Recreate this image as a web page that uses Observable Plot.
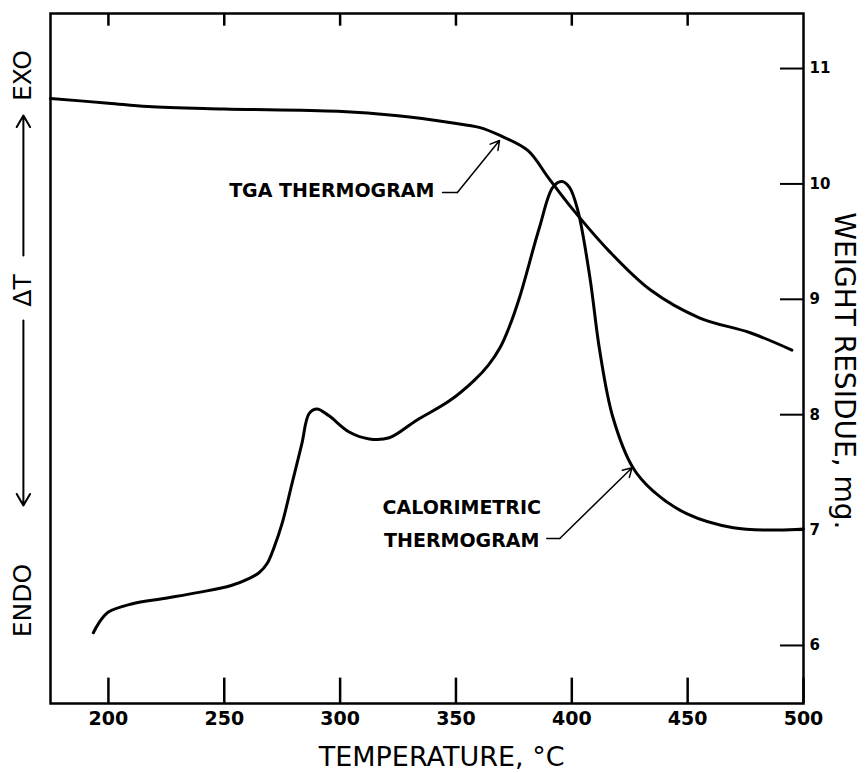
<!DOCTYPE html>
<html><head><meta charset="utf-8">
<script src="https://cdn.jsdelivr.net/npm/d3@7"></script>
<script src="https://cdn.jsdelivr.net/npm/@observablehq/plot@0.6"></script>
<style>body{margin:0;background:#fff}</style>
</head><body><div id="chart"></div>
<script>
// TGA thermogram: temperature (°C) vs weight residue (mg)
const tgaTemp   = [175, 200, 217, 250, 299, 325, 348, 360, 369, 381, 390, 400, 416, 434, 455, 477, 495];
const tgaWeight = [10.74, 10.70, 10.67, 10.65, 10.63, 10.59, 10.53, 10.49, 10.42, 10.29, 10.05, 9.79, 9.42, 9.08, 8.84, 8.71, 8.56];
// Calorimetric thermogram (ΔT, drawn against the same vertical scale)
const calTemp  = [193.5, 195.7, 200, 210, 224.7, 239, 253, 260.6, 265, 268.5, 271.5, 275, 279.2, 283.5, 286.6, 290, 295.2, 303.9, 312.6, 321.2, 332.9, 347.2, 358, 364, 369, 373, 377.5, 386, 391.8, 395.7, 399, 402.6, 407.8, 412, 417.7, 426.4, 435, 449.8, 469.7, 488.7, 500];
const calDelta = [6.11, 6.19, 6.29, 6.36, 6.41, 6.46, 6.52, 6.58, 6.63, 6.71, 6.85, 7.06, 7.40, 7.75, 8.01, 8.05, 7.99, 7.85, 7.79, 7.80, 7.95, 8.12, 8.30, 8.43, 8.58, 8.76, 9.02, 9.62, 9.97, 10.02, 9.97, 9.77, 9.19, 8.56, 7.98, 7.54, 7.34, 7.14, 7.02, 7.00, 7.01];
const xTicks = [200, 250, 300, 350, 400, 450, 500];
const xTopTicks = [200, 250, 300, 350, 400, 450];
const yTicks = [6, 7, 8, 9, 10, 11];
const xLabel = "TEMPERATURE, °C";
const yRightLabel = "WEIGHT RESIDUE, mg.";
const tgaLabel = "TGA THERMOGRAM";
const calLabel1 = "CALORIMETRIC";
const calLabel2 = "THERMOGRAM";

const tga = tgaTemp.map((t, i) => ({t, v: tgaWeight[i]}));
const cal = calTemp.map((t, i) => ({t, v: calDelta[i]}));

const xDom = [175, 500], yDom = [5.497, 11.477];
const bottomTicks = xTicks.map(t => ({t, lo: yDom[0], hi: yDom[0] + 0.22}));
const topTicks = xTopTicks.map(t => ({t, lo: yDom[1] - 0.11, hi: yDom[1]}));
const sans = "'DejaVu Sans', sans-serif";

const chart = Plot.plot({
  width: 865, height: 773,
  marginLeft: 50, marginRight: 62, marginTop: 13, marginBottom: 70,
  x: {domain: xDom},
  y: {domain: yDom},
  style: {fontFamily: sans, color: "#000", background: "#fff", overflow: "visible"},
  marks: [
    Plot.frame({stroke: "#000", strokeWidth: 2.5}),
    // inward ticks (bottom, top, right)
    Plot.ruleX(bottomTicks, {x: "t", y1: "lo", y2: "hi", stroke: "#000", strokeWidth: 2.5}),
    Plot.ruleX(topTicks, {x: "t", y1: "lo", y2: "hi", stroke: "#000", strokeWidth: 2.5}),
    Plot.tickY(yTicks, {y: d => d, insetLeft: 730, stroke: "#000", strokeWidth: 2}),
    Plot.axisX(xTicks, {anchor: "bottom", tickSize: 0, tickPadding: 8, fontSize: 19, fontWeight: "bold", label: null, tickFormat: d => String(d)}),
    Plot.axisY(yTicks, {anchor: "right", tickSize: 0, tickPadding: 6, fontSize: 15, fontWeight: "bold", label: null, tickFormat: d => String(d)}),
    // curves
    Plot.line(tga, {x: "t", y: "v", stroke: "#000", strokeWidth: 3, curve: "catmull-rom"}),
    Plot.line(cal, {x: "t", y: "v", stroke: "#000", strokeWidth: 3, curve: "catmull-rom"}),
    // annotations
    Plot.text([tgaLabel], {x: 340.7, y: 9.94, text: d => d, textAnchor: "end", fontSize: 19, fontWeight: "bold"}),
    Plot.line([{t: 344.2, v: 9.925}, {t: 350.6, v: 9.925}], {x: "t", y: "v", stroke: "#000", strokeWidth: 1.5}),
    Plot.arrow([{x1: 350.6, y1: 9.925, x2: 368.8, y2: 10.376}], {x1: "x1", y1: "y1", x2: "x2", y2: "y2", stroke: "#000", strokeWidth: 1.5, headLength: 10}),
    Plot.text([calLabel1], {x: 352.5, y: 7.19, text: d => d, fontSize: 19, fontWeight: "bold"}),
    Plot.text([calLabel2], {x: 352.5, y: 6.91, text: d => d, fontSize: 19, fontWeight: "bold"}),
    Plot.line([{t: 389.2, v: 6.927}, {t: 394.8, v: 6.927}], {x: "t", y: "v", stroke: "#000", strokeWidth: 1.5}),
    Plot.arrow([{x1: 394.8, y1: 6.927, x2: 426.0, y2: 7.54}], {x1: "x1", y1: "y1", x2: "x2", y2: "y2", stroke: "#000", strokeWidth: 1.5, headLength: 10}),
    // axis titles
    Plot.text([xLabel], {x: 343.8, y: 5.03, text: d => d, fontSize: 27}),
    Plot.text([yRightLabel], {x: 517.5, y: 8.38, text: d => d, rotate: 90, fontSize: 28}),
    // left ΔT label
    Plot.text(["EXO"], {x: 163.3, y: 10.939, text: d => d, rotate: -90, fontSize: 25}),
    Plot.text(["ΔT"], {x: 163.3, y: 9.076, text: d => d, rotate: -90, fontSize: 25}),
    Plot.text(["ENDO"], {x: 163.3, y: 6.390, text: d => d, rotate: -90, fontSize: 25}),
    Plot.arrow([{x1: 163.3, y1: 9.38, x2: 163.3, y2: 10.593}], {x1: "x1", y1: "y1", x2: "x2", y2: "y2", stroke: "#000", strokeWidth: 2, headLength: 10}),
    Plot.arrow([{x1: 163.3, y1: 8.816, x2: 163.3, y2: 7.213}], {x1: "x1", y1: "y1", x2: "x2", y2: "y2", stroke: "#000", strokeWidth: 2, headLength: 10})
  ]
});
document.getElementById("chart").appendChild(chart);
</script>
</body></html>
